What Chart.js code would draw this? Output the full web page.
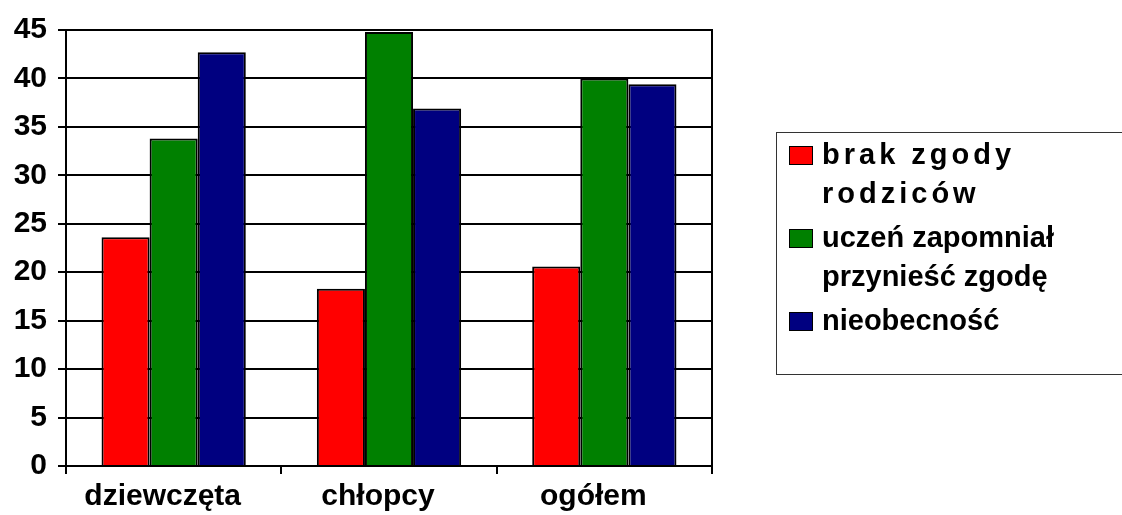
<!DOCTYPE html>
<html>
<head>
<meta charset="utf-8">
<script src="https://cdn.jsdelivr.net/npm/chart.js@4.4.1/dist/chart.umd.min.js"></script>
<style>
    html, body { margin: 0; padding: 0; background: #fff; }
    #wrap { position: relative; width: 1122px; height: 515px; overflow: hidden; }
    #legend {
        position: absolute; left: 776px; top: 132px; width: 360px; height: 243px;
        border: 1px solid #333; box-sizing: border-box; padding-top: 2px;
        font: bold 29px "Liberation Sans", Arial, sans-serif; color: #000;
    }
    .item { display: flex; align-items: flex-start; margin-bottom: 5px; }
    .swatch { width: 22px; height: 17px; border: 1px solid #000; margin: 11px 9px 0 12px; flex: none; }
    .txt { width: 280px; line-height: 39px; }
</style>
</head>
<body>
<div id="wrap">
    <canvas id="chart" width="1122" height="515"></canvas>
    <div id="legend"></div>
</div>
<script>
const categories = ['dziewczęta', 'chłopcy', 'ogółem'];
const seriesNames = ['brak zgody rodziców', 'uczeń zapomniał przynieść zgodę', 'nieobecność'];
const brakZgody = [23.6, 18.3, 20.6];
const zapomnial = [33.8, 44.8, 40.0];
const nieobecnosc = [42.7, 36.9, 39.4];
const yTicks = [0, 5, 10, 15, 20, 25, 30, 35, 40, 45];

const colors = ['#ff0000', '#008000', '#000080'];
const letterSpacing = ['4px', '0', '0']; // first legend entry is spaced out in the original

const ctx = document.getElementById('chart').getContext('2d');
Chart.defaults.font.family = "'Liberation Sans', Arial, sans-serif";
Chart.defaults.color = '#000';

const chart = new Chart(ctx, {
    type: 'bar',
    data: {
        labels: categories,
        datasets: [brakZgody, zapomnial, nieobecnosc].map((d, i) => ({
            label: seriesNames[i],
            data: d,
            backgroundColor: colors[i],
            borderColor: '#000',
            borderWidth: 2,
            categoryPercentage: 0.67,
            barPercentage: 1.0
        }))
    },
    options: {
        responsive: false,
        animation: false,
        layout: { padding: { top: 30, right: 410, left: 0, bottom: 0 } },
        plugins: { legend: { display: false }, tooltip: { enabled: false } },
        scales: {
            x: {
                grid: { display: true, drawOnChartArea: false, offset: true, color: '#000', lineWidth: 2, tickLength: 8 },
                border: { display: true, color: '#000', width: 2 },
                ticks: { font: { size: 30, weight: 'bold' }, padding: 5, maxRotation: 0, labelOffset: -11 },
                afterFit: (s) => { s.height = 49; }
            },
            y: {
                min: 0, max: 45,
                afterBuildTicks: (s) => { s.ticks = yTicks.map(v => ({ value: v })); },
                grid: { color: '#000', lineWidth: 2, tickLength: 8 },
                border: { display: true, color: '#000', width: 2 },
                ticks: { font: { size: 30, weight: 'bold' }, padding: 11 },
                afterFit: (s) => { s.width = 66; }
            },
            yRight: {
                position: 'right',
                min: 0, max: 45,
                grid: { drawOnChartArea: false, drawTicks: false },
                border: { display: true, color: '#000', width: 2 },
                ticks: { display: false },
                afterFit: (s) => { s.width = 0; }
            }
        }
    }
});

// legend built from the chart's own datasets
const legend = document.getElementById('legend');
chart.data.datasets.forEach((ds, i) => {
    const item = document.createElement('div');
    item.className = 'item';
    item.innerHTML = `<div class="swatch" style="background:${ds.backgroundColor}"></div>
        <div class="txt" style="letter-spacing:${letterSpacing[i]}">${ds.label}</div>`;
    legend.appendChild(item);
});
</script>
</body>
</html>
